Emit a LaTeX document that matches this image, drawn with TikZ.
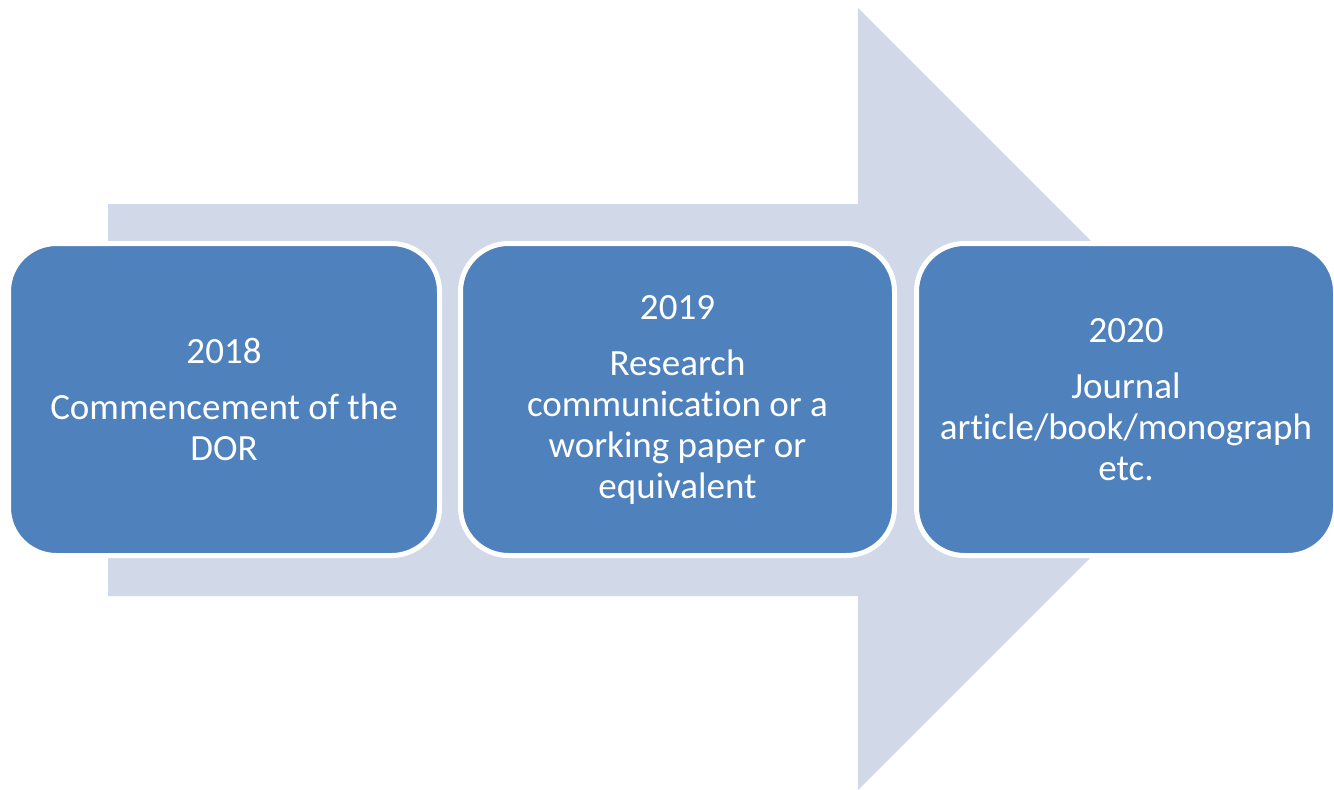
\documentclass[tikz,border=0pt]{standalone}
\usepackage{fontspec}
\setmainfont{Carlito}[Ligatures={NoCommon}]
\definecolor{arrowfill}{HTML}{D1D8E8}
\definecolor{boxfill}{HTML}{4F81BD}
\begin{document}
\begin{tikzpicture}[x=1pt,y=-1pt,
  stage/.style={draw=white, line width=5pt, fill=boxfill, rounded corners=48pt,
    minimum height=312pt, text=white, align=center, inner sep=0pt,
    font=\fontsize{37}{41}\selectfont}]
\useasboundingbox (0,0) rectangle (1334,790);
\fill[arrowfill] (108,204) -- (858,204) -- (858,8) -- (1249,399) -- (858,790) -- (858,596) -- (108,596) -- cycle;
\node[stage, minimum width=431pt] (b1) at (224,399.5) {2018\\[15pt]Commencement of the\\DOR};
\node[stage, minimum width=434pt] (b2) at (677.5,399.5) {2019\\[15pt]Research\\communication or a\\working paper or\\equivalent};
\node[stage, minimum width=419pt] (b3) at (1126,399.5) {2020\\[15pt]Journal\\article/book/monograph\\etc.};
\end{tikzpicture}
\end{document}
